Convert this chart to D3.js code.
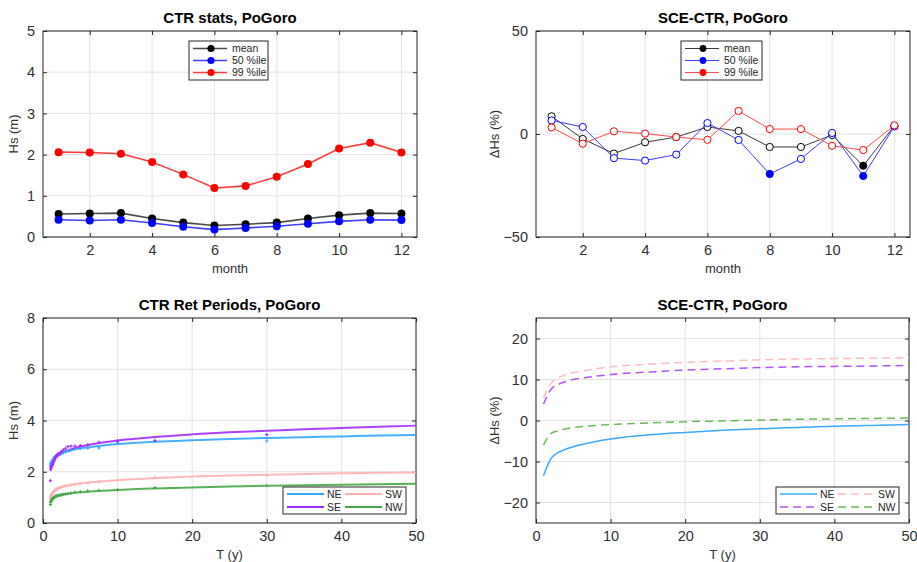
<!DOCTYPE html>
<html>
<head>
<meta charset="utf-8">
<script src="https://cdn.jsdelivr.net/npm/d3@7"></script>
<style>
  body { margin: 0; background: #fff; }
  svg { font-family: "Liberation Sans", Arial, sans-serif; }
  .tick text { fill: #262626; }
</style>
</head>
<body>
<svg id="chart" width="917" height="562"></svg>
<script>
// ---- data: monthly stats (top panels) ----
const months = [1, 2, 3, 4, 5, 6, 7, 8, 9, 10, 11, 12];
const ctrMean = [0.56, 0.57, 0.58, 0.45, 0.35, 0.28, 0.31, 0.35, 0.45, 0.53, 0.58, 0.57];
const ctrP50 = [0.42, 0.40, 0.42, 0.34, 0.25, 0.18, 0.22, 0.26, 0.32, 0.38, 0.42, 0.41];
const ctrP99 = [2.06, 2.05, 2.02, 1.82, 1.52, 1.19, 1.24, 1.46, 1.77, 2.15, 2.29, 2.05];

const dMean = [8.6, -2.4, -9.5, -4.0, -1.5, 3.4, 1.5, -6.3, -6.3, -0.5, -15.4, 4.0];
const dP50 = [6.6, 3.4, -11.7, -12.9, -10.0, 5.3, -2.9, -19.4, -12.1, 0.5, -20.4, 3.7];
const dP99 = [3.2, -4.7, 1.3, 0.2, -1.5, -2.8, 11.2, 2.4, 2.4, -5.7, -7.8, 4.2];
// filled marker = significant change
const sigMean = [0, 0, 0, 0, 0, 0, 0, 0, 0, 0, 1, 0];
const sigP50 = [0, 0, 0, 0, 0, 0, 0, 1, 0, 0, 1, 0];
const sigP99 = [0, 0, 0, 0, 0, 0, 0, 0, 0, 0, 0, 0];

const statNames = ["mean", "50 %ile", "99 %ile"];

// ---- data: return periods (bottom panels) ----
const sectors = ["NE", "SE", "SW", "NW"];
const fitT = [1, 1.25, 1.5, 2, 2.5, 3, 4, 5, 6, 8, 10, 12, 15, 20, 25, 30, 35, 40, 45, 50];
const fitNE = [2.30, 2.45, 2.55, 2.66, 2.73, 2.78, 2.86, 2.91, 2.95, 3.02, 3.08, 3.12, 3.17, 3.23, 3.28, 3.32, 3.35, 3.38, 3.41, 3.43];
const fitSE = [2.15, 2.35, 2.48, 2.62, 2.72, 2.79, 2.90, 2.98, 3.04, 3.14, 3.22, 3.28, 3.36, 3.46, 3.54, 3.60, 3.66, 3.71, 3.76, 3.80];
const fitSW = [0.98, 1.15, 1.24, 1.34, 1.40, 1.44, 1.50, 1.55, 1.58, 1.63, 1.67, 1.71, 1.75, 1.81, 1.85, 1.88, 1.91, 1.94, 1.96, 1.97];
const fitNW = [0.82, 0.95, 1.00, 1.06, 1.10, 1.13, 1.17, 1.20, 1.22, 1.26, 1.29, 1.32, 1.35, 1.39, 1.42, 1.45, 1.47, 1.49, 1.51, 1.53];

const empT = [30, 15, 10, 7.5, 6, 5, 4.29, 3.75, 3.33, 3, 2.73, 2.5, 2.31, 2.14, 2, 1.88, 1.76, 1.67, 1.58, 1.5, 1.43, 1.36, 1.3, 1.25, 1.2, 1.15, 1.11, 1.07, 1.03, 1];
const empNE = [3.20, 3.20, 3.15, 2.93, 2.92, 2.90, 2.88, 2.85, 2.82, 2.78, 2.75, 2.72, 2.70, 2.68, 2.66, 2.64, 2.62, 2.60, 2.58, 2.55, 2.50, 2.47, 2.45, 2.42, 2.40, 2.38, 2.35, 2.32, 2.30, 2.25];
const empSE = [3.45, 3.22, 3.20, 3.15, 3.05, 3.02, 3.00, 3.00, 2.98, 2.90, 2.85, 2.80, 2.75, 2.72, 2.68, 2.65, 2.60, 2.55, 2.50, 2.45, 2.40, 2.35, 2.30, 2.28, 2.25, 2.22, 2.20, 2.15, 2.08, 1.65];
const empSW = [1.85, 1.78, 1.68, 1.60, 1.56, 1.53, 1.50, 1.48, 1.47, 1.45, 1.43, 1.41, 1.39, 1.37, 1.35, 1.33, 1.31, 1.29, 1.27, 1.25, 1.22, 1.20, 1.17, 1.15, 1.13, 1.10, 1.08, 1.05, 1.00, 0.95];
const empNW = [1.46, 1.38, 1.30, 1.27, 1.25, 1.22, 1.20, 1.17, 1.15, 1.13, 1.12, 1.10, 1.09, 1.08, 1.07, 1.06, 1.05, 1.04, 1.02, 1.00, 0.98, 0.97, 0.95, 0.93, 0.92, 0.90, 0.88, 0.85, 0.80, 0.72];

const diffT = [1, 2, 3, 4, 5, 6, 8, 10, 12, 15, 20, 25, 30, 35, 40, 45, 50];
const diffNE = [-13.5, -9.3, -7.8, -7.0, -6.4, -5.9, -5.1, -4.5, -4.0, -3.5, -2.9, -2.4, -2.0, -1.7, -1.4, -1.2, -1.0];
const diffSE = [4.0, 7.6, 8.8, 9.5, 10.0, 10.3, 10.8, 11.2, 11.5, 11.8, 12.3, 12.6, 12.9, 13.1, 13.2, 13.3, 13.4];
const diffSW = [5.5, 9.0, 10.4, 11.2, 11.7, 12.0, 12.6, 13.1, 13.4, 13.7, 14.2, 14.5, 14.8, 15.0, 15.1, 15.2, 15.3];
const diffNW = [-6.0, -3.2, -2.5, -2.0, -1.7, -1.5, -1.2, -1.0, -0.8, -0.6, -0.3, -0.1, 0.1, 0.3, 0.4, 0.5, 0.6];

const svg = d3.select("#chart");
const axisCol = "#262626";
const gridCol = "#e3e3e3";

// disegna un pannello: box, griglia, assi, titolo e etichette
function makePanel(opt) {
  const x = d3.scaleLinear().domain(opt.xDomain).range([opt.x0, opt.x1]);
  const y = d3.scaleLinear().domain(opt.yDomain).range([opt.y1, opt.y0]);
  const g = svg.append("g");
  const fmt = d3.format("d");

  // griglia
  g.selectAll(".gx").data(opt.xTicks).enter().append("line")
    .attr("x1", (d) => x(d)).attr("x2", (d) => x(d))
    .attr("y1", opt.y0).attr("y2", opt.y1)
    .style("stroke", gridCol).style("stroke-width", 1);
  g.selectAll(".gy").data(opt.yTicks).enter().append("line")
    .attr("x1", opt.x0).attr("x2", opt.x1)
    .attr("y1", (d) => y(d)).attr("y2", (d) => y(d))
    .style("stroke", gridCol).style("stroke-width", 1);

  const styleAxis = (sel) => {
    sel.select(".domain").remove();
    sel.selectAll(".tick line").style("stroke", axisCol);
    sel.selectAll(".tick text").style("font-size", "14.5px").style("fill", "#303030");
  };

  g.append("g").attr("transform", `translate(0,${opt.y1})`)
    .call(d3.axisBottom(x).tickValues(opt.xTicks).tickFormat(fmt).tickSizeInner(-4).tickSizeOuter(0).tickPadding(8))
    .call(styleAxis);
  g.append("g").attr("transform", `translate(0,${opt.y0})`)
    .call(d3.axisTop(x).tickValues(opt.xTicks).tickSizeInner(-4).tickSizeOuter(0).tickFormat(""))
    .call(styleAxis);
  g.append("g").attr("transform", `translate(${opt.x0},0)`)
    .call(d3.axisLeft(y).tickValues(opt.yTicks).tickFormat(fmt).tickSizeInner(-4).tickSizeOuter(0).tickPadding(8))
    .call(styleAxis);
  g.append("g").attr("transform", `translate(${opt.x1},0)`)
    .call(d3.axisRight(y).tickValues(opt.yTicks).tickSizeInner(-4).tickSizeOuter(0).tickFormat(""))
    .call(styleAxis);

  g.append("rect")
    .attr("x", opt.x0).attr("y", opt.y0)
    .attr("width", opt.x1 - opt.x0).attr("height", opt.y1 - opt.y0)
    .style("fill", "none").style("stroke", axisCol).style("stroke-width", 1);

  g.append("text").attr("x", (opt.x0 + opt.x1) / 2).attr("y", opt.y0 - 8)
    .attr("text-anchor", "middle").style("font-size", "15px").style("font-weight", "bold")
    .style("fill", "#000").text(opt.title);
  g.append("text").attr("x", (opt.x0 + opt.x1) / 2).attr("y", opt.y1 + 36)
    .attr("text-anchor", "middle").style("font-size", "13px").style("fill", "#303030")
    .text(opt.xLabel);
  g.append("text")
    .attr("transform", `translate(${opt.yLabelX},${(opt.y0 + opt.y1) / 2}) rotate(-90)`)
    .attr("text-anchor", "middle").style("font-size", "13px").style("fill", "#303030")
    .text(opt.yLabel);

  const plot = svg.append("g");
  return { x, y, g: plot };
}

// ---------------- pannello 1: CTR stats ----------------
const p1 = makePanel({
  x0: 43, x1: 417, y0: 31, y1: 237,
  xDomain: [0.5, 12.5], yDomain: [0, 5],
  xTicks: [2, 4, 6, 8, 10, 12], yTicks: [0, 1, 2, 3, 4, 5],
  title: "CTR stats, PoGoro", xLabel: "month", yLabel: "Hs (m)", yLabelX: 18
});
const statSeries1 = [
  { vals: ctrMean, line: "#4a4a4a", mark: "#000" },
  { vals: ctrP50, line: "#3d3dff", mark: "#0000ff" },
  { vals: ctrP99, line: "#ff3d3d", mark: "#ff0000" }
];
statSeries1.forEach((s) => {
  const line = d3.line().x((d, i) => p1.x(months[i])).y((d) => p1.y(d));
  p1.g.append("path").datum(s.vals).attr("d", line)
    .style("fill", "none").style("stroke", s.line).style("stroke-width", 1.6);
  p1.g.selectAll(null).data(s.vals).enter().append("circle")
    .attr("cx", (d, i) => p1.x(months[i])).attr("cy", (d) => p1.y(d))
    .attr("r", 4).style("fill", s.mark);
});

// ---------------- pannello 2: SCE-CTR mensile ----------------
const p2 = makePanel({
  x0: 536, x1: 910, y0: 31, y1: 237,
  xDomain: [0.5, 12.5], yDomain: [-50, 50],
  xTicks: [2, 4, 6, 8, 10, 12], yTicks: [-50, 0, 50],
  title: "SCE-CTR, PoGoro", xLabel: "month", yLabel: "\u0394Hs (%)", yLabelX: 499
});
const statSeries2 = [
  { vals: dMean, sig: sigMean, line: "#3a3a3a", mark: "#000" },
  { vals: dP50, sig: sigP50, line: "#3d3dff", mark: "#0000ff" },
  { vals: dP99, sig: sigP99, line: "#ff4a4a", mark: "#ff0000" }
];
statSeries2.forEach((s) => {
  const line = d3.line().x((d, i) => p2.x(months[i])).y((d) => p2.y(d));
  p2.g.append("path").datum(s.vals).attr("d", line)
    .style("fill", "none").style("stroke", s.line).style("stroke-width", 1);
  p2.g.selectAll(null).data(s.vals).enter().append("circle")
    .attr("cx", (d, i) => p2.x(months[i])).attr("cy", (d) => p2.y(d))
    .attr("r", 3.6)
    .style("fill", (d, i) => (s.sig[i] ? s.mark : "#fff"))
    .style("stroke", s.mark).style("stroke-width", 1);
});

// legenda a marcatori
function statLegend(bx, by, bw, lineCols, markCols, lw, mr) {
  const lg = svg.append("g");
  lg.append("rect").attr("x", bx).attr("y", by).attr("width", bw).attr("height", 39)
    .style("fill", "#fff").style("stroke", axisCol).style("stroke-width", 1);
  statNames.forEach((name, i) => {
    const yy = by + 7.5 + i * 12;
    lg.append("line").attr("x1", bx + 4).attr("x2", bx + 38).attr("y1", yy).attr("y2", yy)
      .style("stroke", lineCols[i]).style("stroke-width", lw);
    lg.append("circle").attr("cx", bx + 22).attr("cy", yy).attr("r", mr).style("fill", markCols[i]);
    lg.append("text").attr("x", bx + 43).attr("y", yy + 3.8)
      .style("font-size", "10.5px").style("fill", axisCol).text(name);
  });
}
statLegend(189, 41, 79, statSeries1.map((s) => s.line), statSeries1.map((s) => s.mark), 1.6, 3.6);
statLegend(681, 41, 81, statSeries2.map((s) => s.line), statSeries2.map((s) => s.mark), 1, 3.4);

// ---------------- pannello 3: CTR return periods ----------------
const secCols = ["#33a6ff", "#a52aff", "#ffb0b0", "#45a845"];
const diffCols = ["#3aaaff", "#b251ff", "#ffbcbc", "#6bbb58"];
const p3 = makePanel({
  x0: 43, x1: 416, y0: 318, y1: 523,
  xDomain: [0, 50], yDomain: [0, 8],
  xTicks: [0, 10, 20, 30, 40, 50], yTicks: [0, 2, 4, 6, 8],
  title: "CTR Ret Periods, PoGoro", xLabel: "T (y)", yLabel: "Hs (m)", yLabelX: 18
});
const fits = [fitNE, fitSE, fitSW, fitNW];
const emps = [empNE, empSE, empSW, empNW];
fits.forEach((vals, k) => {
  const line = d3.line().curve(d3.curveMonotoneX).x((d, i) => p3.x(fitT[i])).y((d) => p3.y(d));
  p3.g.append("path").datum(vals).attr("d", line)
    .style("fill", "none").style("stroke", secCols[k]).style("stroke-width", 2).style("opacity", 0.9);
});
emps.forEach((vals, k) => {
  const sym = d3.symbol().type(d3.symbolCross).size(6);
  p3.g.selectAll(null).data(vals).enter().append("path")
    .attr("d", sym)
    .attr("transform", (d, i) => `translate(${p3.x(empT[i])},${p3.y(d)})`)
    .style("fill", secCols[k]);
});

// ---------------- pannello 4: SCE-CTR return periods ----------------
const p4 = makePanel({
  x0: 536, x1: 909, y0: 318, y1: 523,
  xDomain: [0, 50], yDomain: [-25, 25],
  xTicks: [0, 10, 20, 30, 40, 50], yTicks: [-20, -10, 0, 10, 20],
  title: "SCE-CTR, PoGoro", xLabel: "T (y)", yLabel: "\u0394Hs (%)", yLabelX: 499
});
const diffs = [diffNE, diffSE, diffSW, diffNW];
const dashes = [null, "8,5", "8,5", "8,5"];
diffs.forEach((vals, k) => {
  const line = d3.line().curve(d3.curveMonotoneX).x((d, i) => p4.x(diffT[i])).y((d) => p4.y(d));
  p4.g.append("path").datum(vals).attr("d", line)
    .style("fill", "none").style("stroke", diffCols[k]).style("stroke-width", 1.5)
    .style("stroke-dasharray", dashes[k]);
});

// legenda settori
function sectorLegend(bx, by, cols, dash, lw) {
  const lg = svg.append("g");
  lg.append("rect").attr("x", bx).attr("y", by).attr("width", 123).attr("height", 27)
    .style("fill", "#fff").style("stroke", axisCol).style("stroke-width", 1);
  sectors.forEach((name, i) => {
    const col = i === 0 || i === 1 ? 0 : 1;
    const row = i === 0 || i === 2 ? 0 : 1;
    const lx = bx + 4 + col * 58;
    const yy = by + 7 + row * 13;
    lg.append("line").attr("x1", lx).attr("x2", lx + 37).attr("y1", yy).attr("y2", yy)
      .style("stroke", cols[i]).style("stroke-width", lw).style("stroke-dasharray", dash[i]);
    lg.append("text").attr("x", lx + 40).attr("y", yy + 4)
      .style("font-size", "10.5px").style("fill", axisCol).text(name);
  });
}
sectorLegend(283, 487, secCols, [null, null, null, null], 2);
sectorLegend(776, 487, diffCols, dashes, 1.5);
</script>
</body>
</html>
